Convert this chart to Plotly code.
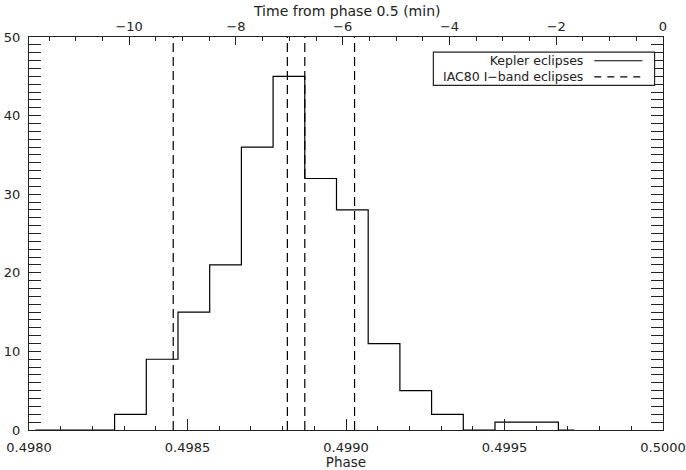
import plotly.graph_objects as go

# Histogram of eclipse phases (bin centres, counts) - IDL psym=10 style steps
bin_centers = [0.49802, 0.49812, 0.49822, 0.49832, 0.49842, 0.49852, 0.49862,
               0.49872, 0.49882, 0.49892, 0.49902, 0.49912, 0.49922, 0.49932,
               0.49942, 0.49952, 0.49962, 0.49972]
counts = [0, 0, 0, 2, 9, 15, 21, 36, 45, 32, 28, 11, 5, 2, 0, 1, 1, 0]
bin_width = 0.0001

# Phases of the IAC80 I-band eclipses
iac80_phases = [0.498455, 0.498815, 0.498870, 0.499027]

phase_range = [0.4980, 0.5000]
period_days = 4.1236
period_min = period_days * 1440.0

y_range = [0, 50]

legend_labels = ["Kepler eclipses", "IAC80 I\u2212band eclipses"]
top_title = "Time from phase 0.5 (min)"

# Build step path: horizontal segments centred on each bin centre
xs = [bin_centers[0]]
ys = [counts[0]]
for i in range(len(bin_centers) - 1):
    xs.append(bin_centers[i] + bin_width / 2)
    ys.append(counts[i + 1])
xs.append(bin_centers[-1])
ys.append(counts[-1])

fig = go.Figure()

fig.add_trace(go.Scatter(
    x=xs, y=ys, mode="lines", line=dict(color="black", width=1.2, shape="hv"),
    showlegend=False, hoverinfo="skip",
))

vx, vy = [], []
for p in iac80_phases:
    vx += [p, p, None]
    vy += [y_range[0], y_range[1], None]
fig.add_trace(go.Scatter(
    x=vx, y=vy, mode="lines",
    line=dict(color="black", width=1.2, dash="9px,5px"),
    showlegend=False, hoverinfo="skip",
))

# Invisible trace anchoring the top time axis
top_range = [(phase_range[0] - 0.5) * period_min, (phase_range[1] - 0.5) * period_min]
fig.add_trace(go.Scatter(
    x=top_range, y=[None, None], xaxis="x2", mode="lines",
    showlegend=False, hoverinfo="skip",
))

font = dict(family="DejaVu Sans, sans-serif", size=13, color="#222")
axcol = "#222"

fig.update_layout(
    width=686, height=470,
    margin=dict(l=29.3, r=23.3, t=36.5, b=39.7),
    paper_bgcolor="white", plot_bgcolor="white",
    font=font,
    xaxis=dict(
        range=phase_range, dtick=0.0005, tick0=0.4980, tickformat=".4f",
        ticks="inside", ticklen=11, tickwidth=1, tickcolor=axcol,
        minor=dict(dtick=0.0001, ticks="inside", ticklen=4, tickcolor=axcol),
        showline=True, linecolor=axcol, linewidth=1.2, mirror=False,
        showgrid=False, zeroline=False, automargin=False,
        title=dict(text="Phase", standoff=8, font=dict(size=13.5)),
        ticklabelstandoff=5,
    ),
    xaxis2=dict(
        overlaying="x", side="top", range=top_range, dtick=2, tick0=0,
        ticks="inside", ticklen=8, tickwidth=1, tickcolor=axcol,
        minor=dict(dtick=0.5, ticks="inside", ticklen=4, tickcolor=axcol),
        showline=True, linecolor=axcol, linewidth=1.2,
        showgrid=False, zeroline=False, automargin=False,
        ticklabelstandoff=0,
    ),
    yaxis=dict(
        range=y_range, dtick=10, tick0=0,
        ticks="inside", ticklen=12, tickwidth=1, tickcolor=axcol,
        minor=dict(dtick=1, ticks="inside", ticklen=6, tickcolor=axcol),
        showline=True, linecolor=axcol, linewidth=1.2, mirror="allticks",
        showgrid=False, zeroline=False, automargin=False,
        ticklabelstandoff=5,
    ),
)

# Top axis title
fig.add_annotation(xref="paper", yref="paper", x=0.5, y=1.066, text=top_title,
                   showarrow=False, xanchor="center", yanchor="middle",
                   font=dict(family="DejaVu Sans, sans-serif", size=14, color="#222"))

# Legend box: text on the left, line sample on the right
box = dict(x0=0.6378, x1=0.9867, y0=0.8768, y1=0.9614)
fig.add_shape(type="rect", xref="paper", yref="paper", **box,
              line=dict(color=axcol, width=1.2), fillcolor="white", layer="above")
ymid = (box["y0"] + box["y1"]) / 2
fig.add_annotation(xref="paper", yref="paper", x=0.8773, y=ymid,
                   text="<br>".join(legend_labels), align="right",
                   showarrow=False, xanchor="right", yanchor="middle",
                   font=dict(family="DejaVu Sans, sans-serif", size=12.5, color="#222"))
row_off = 0.0205
for dash, yy in [("solid", ymid + row_off), ("7px,6px", ymid - row_off)]:
    fig.add_shape(type="line", xref="paper", yref="paper",
                  x0=0.8916, x1=0.9674, y0=yy, y1=yy,
                  line=dict(color="black", width=1.2, dash=dash), layer="above")

fig.write_html("out.html")
